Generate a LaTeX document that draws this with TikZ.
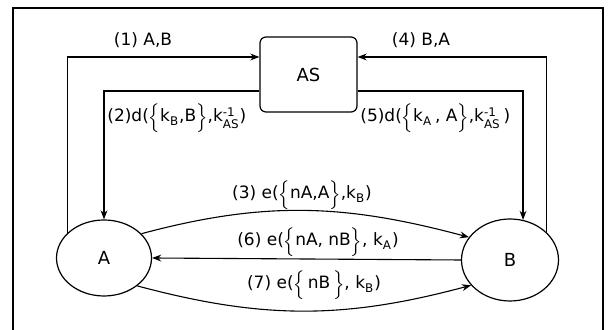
\documentclass[tikz,border=0pt]{standalone}
\usepackage{amsmath}
\usepackage{fontspec}
\setmainfont{DejaVu Sans}
\usepackage{tikz}
\usetikzlibrary{arrows.meta,shapes.geometric}
\newcommand{\low}[1]{$_{\text{#1}}$}
\newcommand{\kinv}{k$^{\text{-1}}_{\text{AS}}$}
\newcommand{\lbr}{$\Bigl\{$}
\newcommand{\rbr}{$\Bigr\}$}
\tikzset{
  >={Stealth[length=1.6mm,width=1.2mm]},
  srvbox/.style={draw,rounded corners=3pt,minimum width=48.5pt,
    minimum height=37.5pt,line width=0.6pt,font=\fontsize{9}{11}\selectfont},
  party/.style={draw,ellipse,line width=0.6pt,inner sep=0pt,
    font=\fontsize{9}{11}\selectfont},
  flow/.style={->,line width=0.55pt},
  msglbl/.style={font=\fontsize{8.5}{10}\selectfont,inner sep=1pt},
  frame/.style={line width=0.8pt},
}
\begin{document}
\begin{tikzpicture}[x=0.5pt,y=0.5pt]
  \useasboundingbox (0,0) rectangle (609,330);
  \draw[frame] (13,-2) -- (13,322) -- (603,322) -- (603,-2);
  % server and the two parties
  \node[srvbox] (as) at (308.5,255.5) {AS};
  \node[party,minimum width=47.5pt,minimum height=38pt] (a) at (104,72) {A};
  \node[party,minimum width=48.5pt,minimum height=41pt] (b) at (510,70) {B};
  % messages to and from AS
  \draw[flow] (a.146) |- ([yshift=8.75pt]as.west);
  \draw[flow] ([yshift=-8.25pt]as.west) -| (a.north);
  \draw[flow] (b.37) |- ([yshift=8.75pt]as.east);
  \draw[flow] ([yshift=-8.25pt]as.east) -| (b.72);
  % messages between A and B
  \draw[flow] (a.33) to[out=15,in=165] (b.151);
  \draw[flow] (b.west) -- (a.east);
  \draw[flow] (a.-40) to[out=-15,in=195] (b.213);
  % labels
  \node[msglbl] (l1) at (143,290) {(1) A,B};
  \node[msglbl] (l4) at (421,290) {(4) B,A};
  \node[msglbl,anchor=west] (l2) at (105,212)
    {(2)d(\lbr k\low{B},B\rbr,\kinv)};
  \node[msglbl,anchor=west] (l5) at (358,212)
    {(5)d(\lbr k\low{A}\,, A\rbr,\kinv\,)};
  \node[msglbl] (l3) at (302,135) {(3) e(\lbr nA,A\rbr,k\low{B})};
  \node[msglbl] (l6) at (318,88) {(6) e(\lbr nA, nB\rbr, k\low{A})};
  \node[msglbl] (l7) at (314,45) {(7) e(\lbr\,nB\,\rbr, k\low{B})};
\end{tikzpicture}
\end{document}
